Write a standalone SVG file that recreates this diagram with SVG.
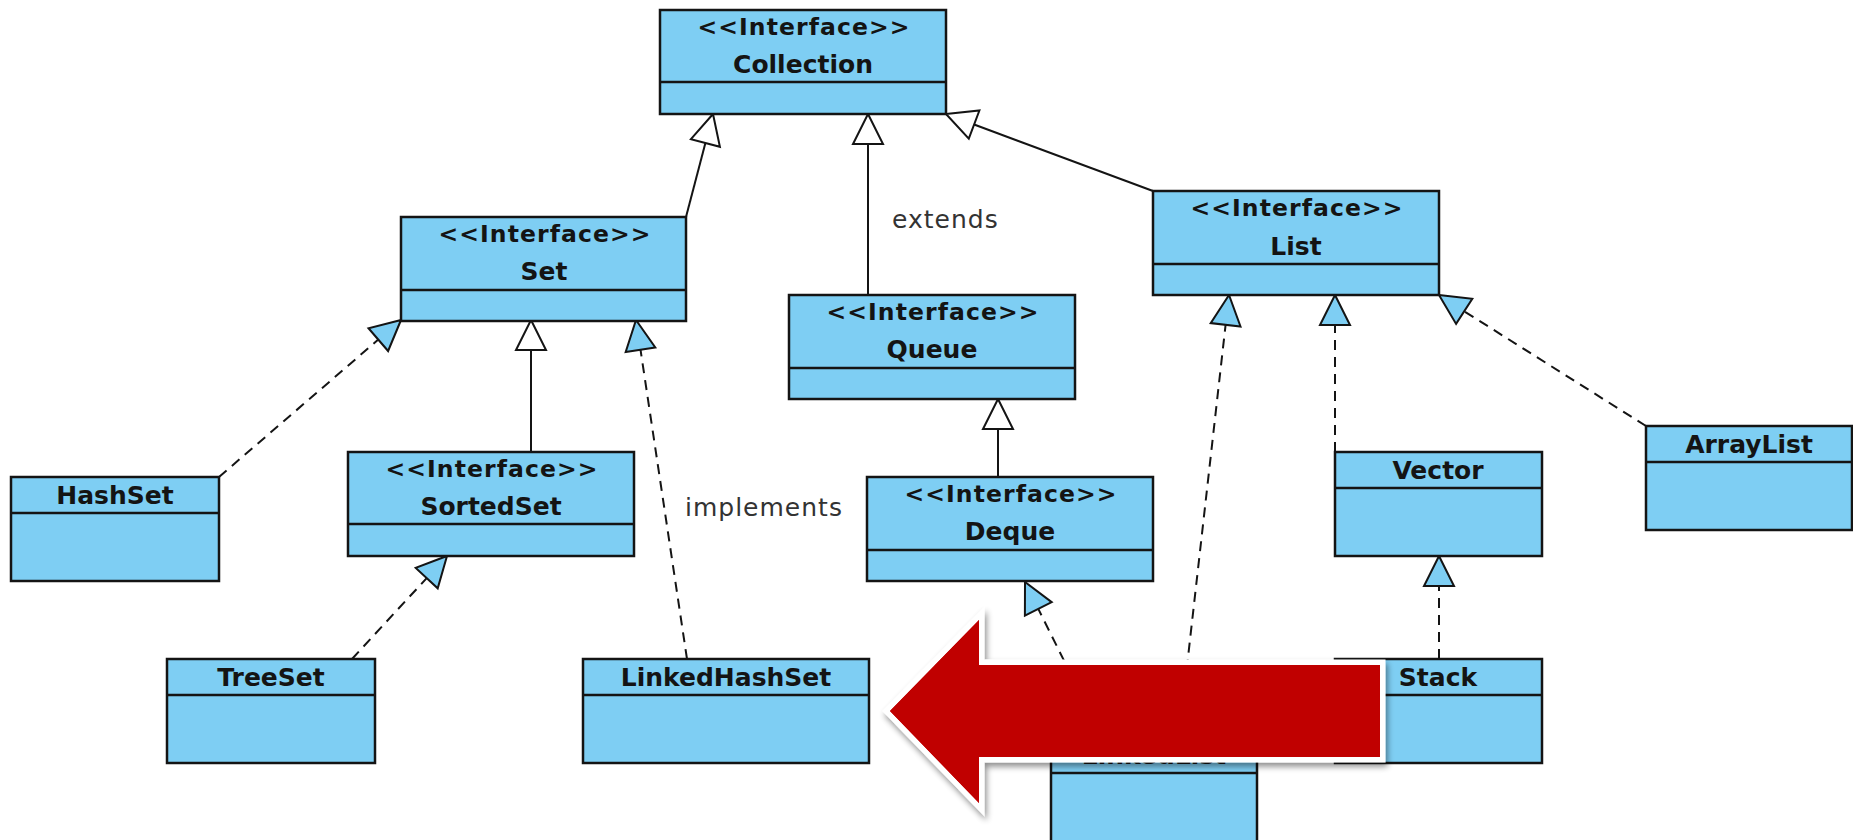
<svg xmlns="http://www.w3.org/2000/svg" width="1853" height="840" viewBox="0 0 1853 840">
<style>
.box{fill:#7ECEF3;stroke:#141414;stroke-width:2.5}
.dv{stroke:#141414;stroke-width:2.5}
.st{font-family:'DejaVu Sans',Verdana,sans-serif;font-weight:bold;font-size:23.5px;letter-spacing:1.1px;fill:#141414;text-anchor:middle}
.nm{font-family:'DejaVu Sans',Verdana,sans-serif;font-weight:bold;font-size:25px;fill:#141414;text-anchor:middle}
.lbl{font-family:'DejaVu Sans',Verdana,sans-serif;font-size:25px;letter-spacing:1px;fill:#333}
.sol{stroke:#141414;stroke-width:2;fill:none}
.dash{stroke:#141414;stroke-width:2;fill:none;stroke-dasharray:10 7}
.hw{fill:#fff;stroke:#141414;stroke-width:2;stroke-linejoin:miter}
.hb{fill:#7ECEF3;stroke:#141414;stroke-width:2;stroke-linejoin:miter}
</style>
<defs>
<filter id="shadow" x="-10%" y="-20%" width="130%" height="150%">
<feGaussianBlur in="SourceAlpha" stdDeviation="3"/>
<feOffset dx="2" dy="4" result="b"/>
<feComponentTransfer><feFuncA type="linear" slope="0.45"/></feComponentTransfer>
<feMerge><feMergeNode/><feMergeNode in="SourceGraphic"/></feMerge>
</filter>
</defs>
<rect width="1853" height="840" fill="#fff"/>

<g id="connectors">
<line class="sol" x1="686" y1="217" x2="705.4" y2="143"/>
<polygon class="hw" points="713,114 719.9,146.8 690.9,139.2"/>
<line class="sol" x1="868" y1="295" x2="868" y2="144"/>
<polygon class="hw" points="868,114 883,144 853,144"/>
<line class="sol" x1="1153" y1="191" x2="974.1" y2="124.5"/>
<polygon class="hw" points="946,114 979.4,110.5 968.8,138.6"/>
<line class="sol" x1="998" y1="477" x2="998" y2="429"/>
<polygon class="hw" points="998,399 1013,429 983,429"/>
<line class="sol" x1="531" y1="452" x2="531" y2="350"/>
<polygon class="hw" points="531,320 546,350 516,350"/>

<line class="dash" x1="219" y1="477" x2="378.3" y2="339.6"/>
<polygon class="hb" points="401,320 388.1,351 368.5,328.2"/>
<line class="dash" x1="687" y1="659" x2="640.5" y2="349.7"/>
<polygon class="hb" points="636,320 655.3,347.4 625.7,351.9"/>
<line class="dash" x1="352" y1="659" x2="426.7" y2="578.1"/>
<polygon class="hb" points="447,556 437.7,588.3 415.7,567.9"/>
<line class="dash" x1="1102" y1="737" x2="1038.3" y2="608.9"/>
<polygon class="hb" points="1025,582 1024.9,615.6 1051.7,602.2"/>
<line class="dash" x1="1179" y1="737" x2="1225.6" y2="324.8"/>
<polygon class="hb" points="1229,295 1210.7,323.1 1240.5,326.5"/>
<line class="dash" x1="1335" y1="452" x2="1335" y2="325"/>
<polygon class="hb" points="1335,295 1350,325 1320,325"/>
<line class="dash" x1="1646" y1="426" x2="1464.2" y2="311.3"/>
<polygon class="hb" points="1439,295 1472.3,298.7 1456.1,323.9"/>
<line class="dash" x1="1439" y1="659" x2="1439" y2="586"/>
<polygon class="hb" points="1439,556 1454,586 1424,586"/>

<text class="lbl" x="892" y="228">extends</text>
<text class="lbl" x="685" y="516">implements</text>
</g>

<g id="collection"><rect class="box" x="660" y="10" width="286" height="104"/><line class="dv" x1="660" y1="82" x2="946" y2="82"/><text class="st" x="804" y="35">&lt;&lt;Interface&gt;&gt;</text><text class="nm" x="803" y="73">Collection</text></g>
<g id="set"><rect class="box" x="401" y="217" width="285" height="104"/><line class="dv" x1="401" y1="290" x2="686" y2="290"/><text class="st" x="545" y="242">&lt;&lt;Interface&gt;&gt;</text><text class="nm" x="544" y="280">Set</text></g>
<g id="queue"><rect class="box" x="789" y="295" width="286" height="104"/><line class="dv" x1="789" y1="368" x2="1075" y2="368"/><text class="st" x="933" y="320">&lt;&lt;Interface&gt;&gt;</text><text class="nm" x="932" y="358">Queue</text></g>
<g id="list"><rect class="box" x="1153" y="191" width="286" height="104"/><line class="dv" x1="1153" y1="264" x2="1439" y2="264"/><text class="st" x="1297" y="216">&lt;&lt;Interface&gt;&gt;</text><text class="nm" x="1296" y="255">List</text></g>
<g id="sortedset"><rect class="box" x="348" y="452" width="286" height="104"/><line class="dv" x1="348" y1="524" x2="634" y2="524"/><text class="st" x="492" y="477">&lt;&lt;Interface&gt;&gt;</text><text class="nm" x="491" y="515">SortedSet</text></g>
<g id="deque"><rect class="box" x="867" y="477" width="286" height="104"/><line class="dv" x1="867" y1="550" x2="1153" y2="550"/><text class="st" x="1011" y="502">&lt;&lt;Interface&gt;&gt;</text><text class="nm" x="1010" y="540">Deque</text></g>

<g id="hashset"><rect class="box" x="11" y="477" width="208" height="104"/><line class="dv" x1="11" y1="513" x2="219" y2="513"/><text class="nm" x="115" y="504">HashSet</text></g>
<g id="vector"><rect class="box" x="1335" y="452" width="207" height="104"/><line class="dv" x1="1335" y1="488" x2="1542" y2="488"/><text class="nm" x="1438" y="479">Vector</text></g>
<g id="arraylist"><rect class="box" x="1646" y="426" width="206" height="104"/><line class="dv" x1="1646" y1="462" x2="1852" y2="462"/><text class="nm" x="1749" y="453">ArrayList</text></g>
<g id="treeset"><rect class="box" x="167" y="659" width="208" height="104"/><line class="dv" x1="167" y1="695" x2="375" y2="695"/><text class="nm" x="271" y="686">TreeSet</text></g>
<g id="linkedhashset"><rect class="box" x="583" y="659" width="286" height="104"/><line class="dv" x1="583" y1="695" x2="869" y2="695"/><text class="nm" x="726" y="686">LinkedHashSet</text></g>
<g id="stack"><rect class="box" x="1335" y="659" width="207" height="104"/><line class="dv" x1="1335" y1="695" x2="1542" y2="695"/><text class="nm" x="1438" y="686">Stack</text></g>
<g id="linkedlist"><rect class="box" x="1051" y="737" width="206" height="110"/><line class="dv" x1="1051" y1="773" x2="1257" y2="773"/><text class="nm" x="1154" y="764">LinkedList</text></g>

<g id="red-arrow" filter="url(#shadow)">
<polygon points="890,711 979,620 979,665 1380,665 1380,757 979,757 979,803" fill="#C00000" stroke="#fff" stroke-width="11" stroke-linejoin="miter" stroke-miterlimit="10" paint-order="stroke"/>
<polygon points="890,711 979,620 979,665 1380,665 1380,757 979,757 979,803" fill="#C00000"/>
</g>
</svg>
